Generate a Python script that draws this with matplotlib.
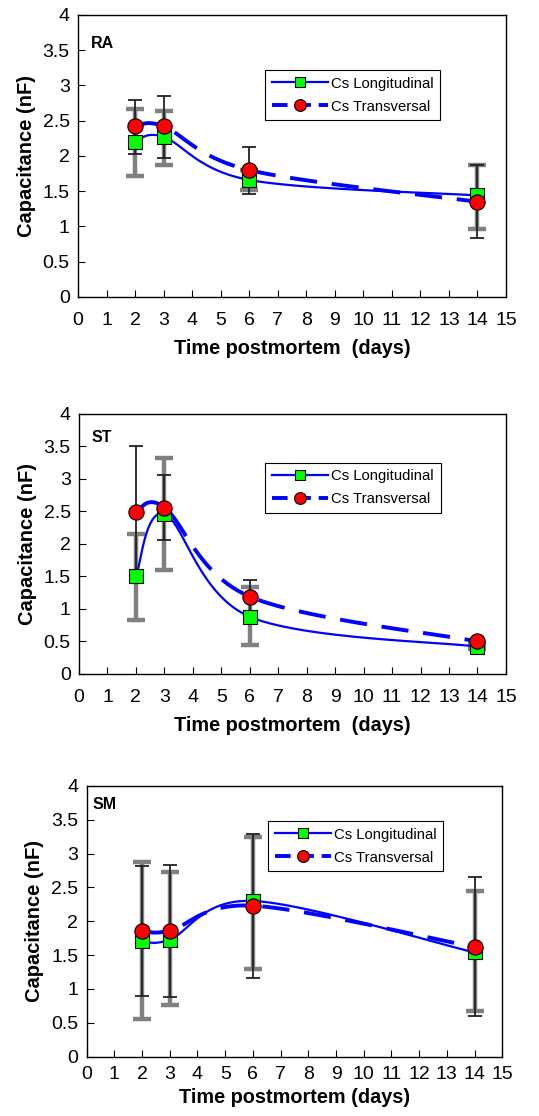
import numpy as np
import matplotlib
matplotlib.use("Agg")
import matplotlib.pyplot as plt
from matplotlib.lines import Line2D

plt.rcParams['font.family'] = ['Liberation Sans', 'DejaVu Sans']

# ---------------------------------------------------------------
# data
# ---------------------------------------------------------------
days = [2, 3, 6, 14]

# RA
ra_long = [2.20, 2.27, 1.66, 1.44]
ra_long_lo = [1.72, 1.87, 1.52, 0.97]
ra_long_hi = [2.67, 2.64, 1.80, 1.87]
ra_trans = [2.42, 2.42, 1.80, 1.35]
ra_trans_lo = [2.03, 1.97, 1.46, 0.83]
ra_trans_hi = [2.80, 2.85, 2.13, 1.87]

# ST
st_long = [1.50, 2.46, 0.88, 0.42]
st_long_lo = [0.83, 1.60, 0.45, 0.38]
st_long_hi = [2.16, 3.32, 1.33, 0.46]
st_trans = [2.49, 2.56, 1.19, 0.50]
st_trans_lo = [1.48, 2.06, 0.94, 0.46]
st_trans_hi = [3.50, 3.06, 1.44, 0.54]

# SM
sm_long = [1.71, 1.73, 2.30, 1.54]
sm_long_lo = [0.55, 0.77, 1.30, 0.68]
sm_long_hi = [2.88, 2.72, 3.25, 2.45]
sm_trans = [1.86, 1.86, 2.23, 1.62]
sm_trans_lo = [0.90, 0.88, 1.16, 0.60]
sm_trans_hi = [2.82, 2.83, 3.29, 2.65]

BLUE = '#0000ff'


def smooth(x, y, n=40):
    # excel style smoothed line (cubic bezier, catmull-rom controls)
    x = np.asarray(x, float)
    y = np.asarray(y, float)
    P = np.column_stack([x, y])
    Pe = np.vstack([P[0], P, P[-1]])
    out = []
    t = np.linspace(0, 1, n)[:, None]
    for i in range(len(P) - 1):
        p0 = Pe[i + 1]
        p3 = Pe[i + 2]
        c1 = p0 + (Pe[i + 2] - Pe[i]) / 6.0
        c2 = p3 - (Pe[i + 3] - Pe[i + 1]) / 6.0
        seg = ((1 - t) ** 3) * p0 + 3 * ((1 - t) ** 2) * t * c1 + 3 * (1 - t) * t ** 2 * c2 + t ** 3 * p3
        out.append(seg if i == 0 else seg[1:])
    out = np.vstack(out)
    return out[:, 0], out[:, 1]


def panel(ax, tag, lg, lg_lo, lg_hi, tr, tr_lo, tr_hi, leg_anchor, tag_pos, xlabel,
          xpad=11, xlabpad=7):
    lg = np.array(lg); tr = np.array(tr)
    # gray error bars (longitudinal)
    ax.errorbar(days, lg, yerr=[lg - np.array(lg_lo), np.array(lg_hi) - lg],
                fmt='none', ecolor='#808080', elinewidth=3.2, capsize=6.5, capthick=3.2, zorder=2)
    # black error bars (transversal)
    ax.errorbar(days, tr, yerr=[tr - np.array(tr_lo), np.array(tr_hi) - tr],
                fmt='none', ecolor='#222222', elinewidth=1.3, capsize=5, capthick=1.3, zorder=3)

    sx, sy = smooth(days, lg)
    ax.plot(sx, sy, color=BLUE, lw=1.6, zorder=4)
    sx, sy = smooth(days, tr)
    ax.plot(sx, sy, color=BLUE, lw=2.8, dashes=(7, 3.8), zorder=4)

    ax.plot(days, lg, ls='none', marker='s', ms=9.5, mfc='#00ff00', mec='black', mew=0.8, zorder=5)
    ax.plot(days, tr, ls='none', marker='o', ms=11, mfc='#ff0000', mec='black', mew=0.8, zorder=6)

    ax.set_xlim(0, 15)
    ax.set_ylim(0, 4)
    ax.set_xticks(range(0, 16))
    ax.set_yticks(np.arange(0, 4.01, 0.5))
    ax.set_yticklabels(['0', '0.5', '1', '1.5', '2', '2.5', '3', '3.5', '4'])
    ax.tick_params(direction='in', length=5, width=0.8, labelsize=14)
    ax.tick_params(axis='x', pad=xpad)
    ax.tick_params(axis='y', pad=6)
    for s in ax.spines.values():
        s.set_linewidth(1.0)
    ax.set_ylabel('Capacitance (nF)', fontsize=14.5, fontweight='bold', labelpad=5)
    ax.set_xlabel(xlabel, fontsize=14.3, fontweight='bold', labelpad=xlabpad)
    ax.text(tag_pos[0], tag_pos[1], tag, transform=ax.transAxes, fontsize=11.5,
            fontweight='bold', va='center', ha='left')

    h1 = Line2D([], [], color=BLUE, lw=1.6, marker='s', ms=7.5, mfc='#00ff00', mec='black', mew=0.8)
    h2 = Line2D([], [], color=BLUE, lw=2.8, dashes=(4, 2), marker='o', ms=8.5, mfc='#ff0000', mec='black', mew=0.8)
    leg = ax.legend([h1, h2], ['Cs Longitudinal', 'Cs Transversal'], loc='upper left',
                    bbox_to_anchor=leg_anchor, fontsize=10.7, frameon=True, fancybox=False,
                    edgecolor='black', framealpha=1, handlelength=3.8, borderpad=0.45,
                    labelspacing=0.6, handletextpad=0.2, borderaxespad=0)
    leg.get_frame().set_linewidth(0.8)


fig = plt.figure(figsize=(5.39, 11.16), dpi=100)

ax1 = fig.add_axes([0.1447, 0.7339, 0.794, 0.2527])
panel(ax1, 'RA', ra_long, ra_long_lo, ra_long_hi, ra_trans, ra_trans_lo, ra_trans_hi,
      (0.437, 0.805), (0.03, 0.90), 'Time postmortem  (days)')

ax2 = fig.add_axes([0.1466, 0.3961, 0.792, 0.233])
panel(ax2, 'ST', st_long, st_long_lo, st_long_hi, st_trans, st_trans_lo, st_trans_hi,
      (0.436, 0.813), (0.03, 0.91), 'Time postmortem  (days)')

ax3 = fig.add_axes([0.1608, 0.0531, 0.771, 0.2428])
panel(ax3, 'SM', sm_long, sm_long_lo, sm_long_hi, sm_trans, sm_trans_lo, sm_trans_hi,
      (0.436, 0.870), (0.015, 0.93), 'Time postmortem (days)', xpad=7, xlabpad=3)

fig.savefig('out.png', dpi=100)
